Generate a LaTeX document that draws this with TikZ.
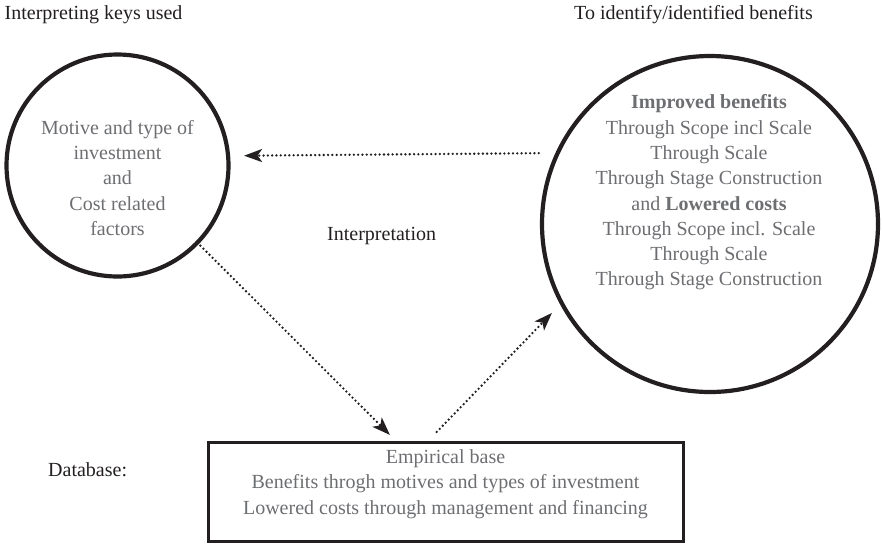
\documentclass[tikz,border=0pt]{standalone}
\usepackage{fontspec}
\setmainfont{Liberation Serif}
\usetikzlibrary{arrows.meta}
\definecolor{ink}{HTML}{231F20}
\definecolor{soft}{HTML}{6D6E71}

\begin{document}
\begin{tikzpicture}[x=1pt,y=-1pt,
  ring/.style={circle, draw=ink, line width=4.2pt, inner sep=0pt, outer sep=0pt},
  frame/.style={rectangle, draw=ink, line width=3pt, inner sep=0pt, outer sep=0pt},
  body/.style={text=soft, font=\fontsize{20}{25.3}\selectfont, align=center, inner sep=0pt},
  caption/.style={text=ink, font=\fontsize{20}{24}\selectfont, anchor=base west, inner sep=0pt},
  flow/.style={draw=ink, line width=2.6pt, line cap=round, dash pattern=on 0pt off 4.3pt,
    -{Stealth[length=18pt,width=13pt,inset=4.5pt]}},
]
\useasboundingbox (0,0) rectangle (882,544);

% headings
\node[caption] (hkeys) at (4.5,19) {Interpreting keys used};
\node[caption] (hgain) at (574,19) {To identify/identified benefits};
\node[caption] (interp) at (327,240) {Interpretation};
\node[caption] (dbase) at (48,476) {Database:};

% left circle: interpreting keys
\node[ring, minimum size=222pt] (keys) at (117.5,165.5) {};
\node[body] (keystext) at (117.5,178) {Motive and type of\\investment\\and\\Cost related\\factors};

% right circle: benefits
\node[ring, minimum size=336pt] (gains) at (710,224) {};
\node[body] (gainstext) at (709,192.5) {\textbf{Improved benefits}\\Through Scope incl Scale\\Through Scale\\Through Stage Construction\\and \textbf{Lowered costs}\\Through Scope incl. Scale\\Through Scale\\Through Stage Construction};

% empirical base box
\node[frame, minimum width=475pt, minimum height=99pt] (base) at (445.5,491.5) {};
\node[body] (basetext) at (445.5,484) {Empirical base\\Benefits throgh motives and types of investment\\Lowered costs through management and financing};

% dotted connectors
\draw[flow, shorten <=19pt, shorten >=16pt] (gains.155.5) -- (keys.5.7);
\draw[flow, shorten >=10pt] (keys.-44.3) -- ([xshift=189pt]base.north west);
\draw[flow, shorten <=14pt, shorten >=14pt] ([xshift=219pt]base.north west) -- (gains.208.7);
\end{tikzpicture}
\end{document}
